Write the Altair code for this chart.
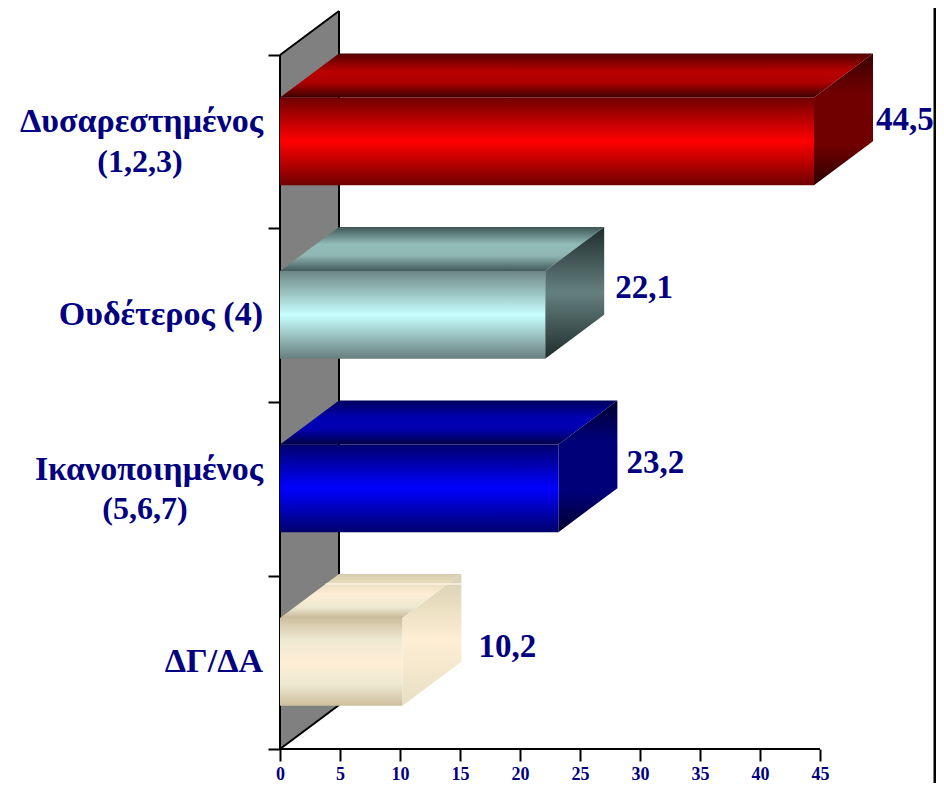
import altair as alt
import pandas as pd

# ---- values ----
categories = ["Δυσαρεστημένος", "Ουδέτερος (4)", "Ικανοποιημένος", "ΔΓ/ΔΑ"]
second_lines = ["(1,2,3)", "", "(5,6,7)", ""]
values = [44.5, 22.1, 23.2, 10.2]
value_labels = ["44,5", "22,1", "23,2", "10,2"]
x_ticks = [0, 5, 10, 15, 20, 25, 30, 35, 40, 45]
y_ticks = [0, 1, 2, 3, 4]

# ---- styles ----
NAVY = "#000080"
FONT = "Liberation Serif"
front_stops = [
    [(0, "#700000"), (0.5, "#ff0000"), (1, "#700000")],
    [(0, "#6c8684"), (0.5, "#c8ffff"), (1, "#687e7e")],
    [(0, "#00006c"), (0.5, "#0000ff"), (1, "#00006c")],
    [(0, "#cdbf9e"), (0.25, "#efe9d2"), (0.5, "#fdeed4"), (0.75, "#efe9d2"), (1, "#cdbf9e")],
]
top_stops = [
    [(0, "#500000"), (0.4, "#b90000"), (0.65, "#b00000"), (1, "#3c0000")],
    [(0, "#3e5656"), (0.4, "#93bdb9"), (0.65, "#8fb6b3"), (1, "#435a58")],
    [(0, "#00005a"), (0.4, "#0000b4"), (0.65, "#0000b0"), (1, "#000045")],
    [(0, "#d8cdae"), (0.45, "#fdeed4"), (0.75, "#efe9d2"), (1, "#c7b998")],
]
side_stops = [
    [(0, "#3a0000"), (0.3, "#700000"), (0.7, "#700000"), (1, "#2c0000")],
    [(0, "#1f2d2c"), (0.5, "#64807e"), (1, "#1f2d2c")],
    [(0, "#00002e"), (0.3, "#000078"), (0.7, "#000078"), (1, "#00002e")],
    [(0, "#d8cfb0"), (0.5, "#fdeed4"), (1, "#e8dfc4")],
]

# ---- layout (axis units) ----
PX_X = 12.0
PX_Y = 173.5
VIEW_W = 656
VIEW_H = 739
DX = 59 / PX_X
DY = 44 / PX_Y
BAR_LOW = 0.25
BAR_HIGH = 0.755
label_gap = [62 / PX_X, 70 / PX_X, 68 / PX_X, 76 / PX_X]
label_y = [0.625, 0.657, 0.648, 0.588]
main_label_y = [0.614, 0.5, 0.607, 0.5]
second_label_y = [0.383, 0, 0.382, 0]
second_label_x = [140, 0, 145, 0]
LABEL_RIGHT = (263 - 280) / PX_X

x_scale = alt.Scale(domain=[0, VIEW_W / PX_X], nice=False, zero=False)
y_scale = alt.Scale(domain=[0, VIEW_H / PX_Y], nice=False, zero=False)
x_axis = alt.Axis(
    values=x_ticks, grid=False, domain=False, tickColor="black", tickWidth=2,
    tickSize=12, labelFont=FONT, labelFontWeight="bold", labelFontSize=18,
    labelColor=NAVY, labelPadding=4, labelFlush=False, labelOverlap=False,
    format="d", title=None)
y_axis = alt.Axis(
    values=y_ticks, grid=False, domain=False, tickColor="black", tickWidth=2,
    tickSize=12, labels=False, title=None)
X = lambda f="x": alt.X(f"{f}:Q", scale=x_scale, axis=x_axis)
Y = lambda f="y": alt.Y(f"{f}:Q", scale=y_scale, axis=y_axis)


def gradient(stops):
    return alt.Gradient(
        gradient="linear", x1=0, x2=0, y1=0, y2=1,
        stops=[alt.GradientStop(offset=o, color=c) for o, c in stops],
    )


def area(rows, fill):
    df = pd.DataFrame(rows, columns=["x", "y", "y2"])
    return alt.Chart(df).mark_area(color=fill, orient="vertical", opacity=1).encode(
        x=X(), y=Y(), y2=alt.Y2("y2:Q")
    )


def line(x1, y1, x2, y2, color="black", width=2):
    df = pd.DataFrame({"x": [x1, x2], "y": [y1, y2]})
    return alt.Chart(df).mark_line(color=color, strokeWidth=width).encode(x=X(), y=Y())


layers = []

# back wall
top = y_ticks[-1]
layers.append(area([(0, top, 0), (DX, top + DY, DY)], "#808080"))
layers.append(line(DX, DY, DX, top + DY))
layers.append(line(0, top, DX, top + DY))
layers.append(line(0, 0, DX, DY))
layers.append(line(0, 0, x_ticks[-1], 0))
layers.append(line(0, 0, 0, top))

# bars
for i, v in enumerate(values):
    slot = len(values) - 1 - i
    lo, hi = slot + BAR_LOW, slot + BAR_HIGH
    layers.append(area([
        (0, hi, hi), (DX, hi + DY, hi), (v, hi + DY, hi), (v + DX, hi + DY, hi + DY),
    ], gradient(top_stops[i])))
    layers.append(area([(v, hi, lo), (v + DX, hi + DY, lo + DY)], gradient(side_stops[i])))
    front = pd.DataFrame({"x": [0], "x2": [v], "y": [lo], "y2": [hi]})
    layers.append(alt.Chart(front).mark_rect(color=gradient(front_stops[i]), opacity=1).encode(
        x=X(), x2=alt.X2("x2:Q"), y=Y(), y2=alt.Y2("y2:Q")))

# stray highlight across the back of the last bar
layers.append(line(3.8, BAR_HIGH + DY - 10 / PX_Y, values[-1] + DX, BAR_HIGH + DY - 10 / PX_Y,
                   color="#fbf5e4", width=1.5))

# value labels
rows = [{"x": v + g, "y": len(values) - 1 - i + ly, "t": t}
        for i, (v, g, ly, t) in enumerate(zip(values, label_gap, label_y, value_labels))]
layers.append(alt.Chart(pd.DataFrame(rows)).mark_text(
    align="left", baseline="middle", font=FONT, fontWeight="bold", fontSize=33, color=NAVY
).encode(x=X(), y=Y(), text="t:N"))

# category labels
rows = [{"x": LABEL_RIGHT, "y": len(values) - 1 - i + ly, "t": c}
        for i, (c, ly) in enumerate(zip(categories, main_label_y))]
layers.append(alt.Chart(pd.DataFrame(rows)).mark_text(
    align="right", baseline="middle", font=FONT, fontWeight="bold", fontSize=34, color=NAVY
).encode(x=X(), y=Y(), text="t:N"))
rows = [{"x": (px - 280) / PX_X, "y": len(values) - 1 - i + ly, "t": s}
        for i, (s, ly, px) in enumerate(zip(second_lines, second_label_y, second_label_x)) if s]
layers.append(alt.Chart(pd.DataFrame(rows)).mark_text(
    align="center", baseline="middle", font=FONT, fontWeight="bold", fontSize=32, color=NAVY
).encode(x=X(), y=Y(), text="t:N"))

# frame line at the right edge
layers.append(alt.Chart(pd.DataFrame({"x": [(VIEW_W - 1) / PX_X]})).mark_rule(
    color="black", strokeWidth=3
).encode(x=X(), y=alt.value(-2), y2=alt.value(VIEW_H + 34)))

chart = alt.layer(*layers).properties(
    width=VIEW_W, height=VIEW_H,
    autosize=alt.AutoSizeParams(type="none"),
    padding={"left": 272, "top": 2, "right": 0, "bottom": 34},
).configure_view(stroke=None)

chart.save("out.html", embed_options={"renderer": "svg", "actions": False})
